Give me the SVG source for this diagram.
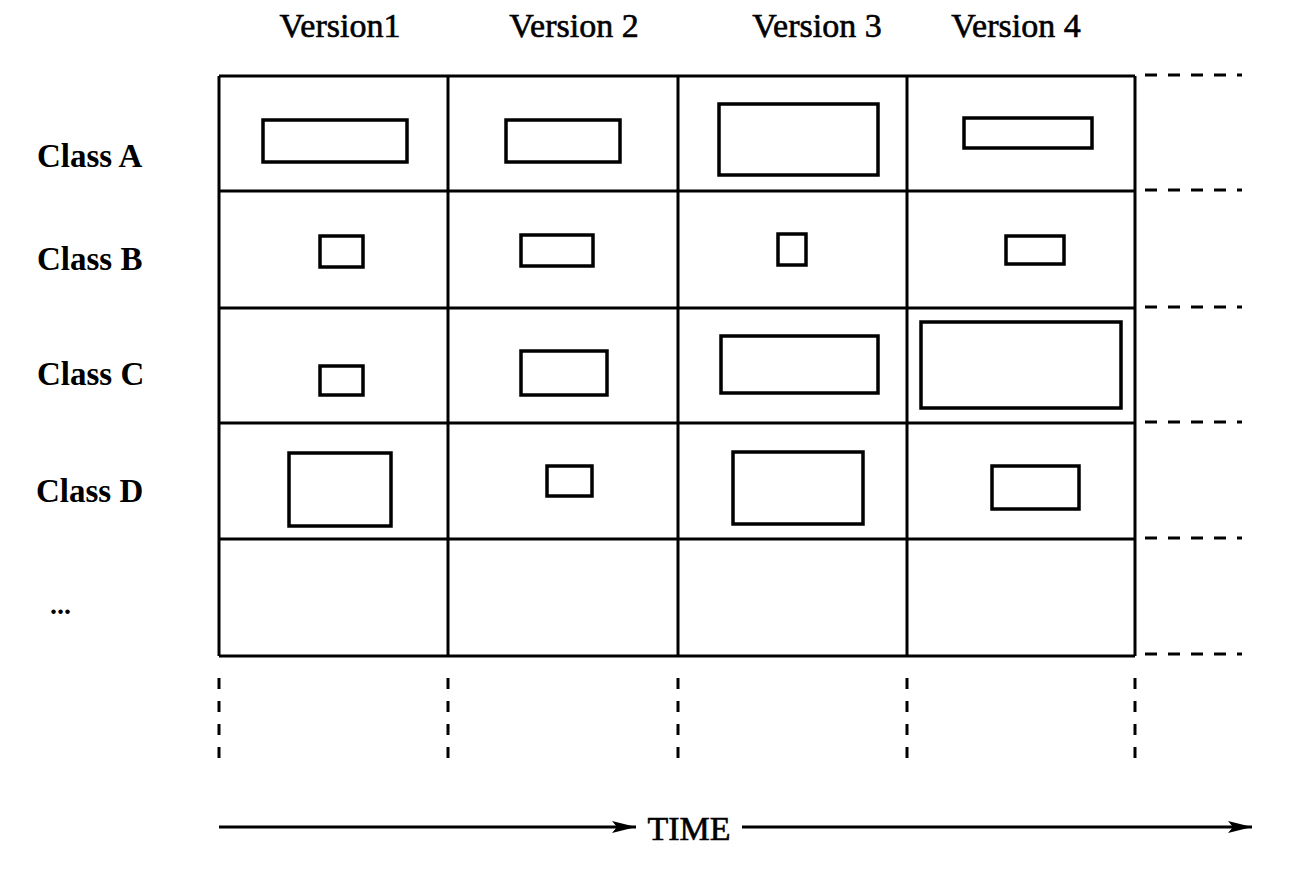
<svg xmlns="http://www.w3.org/2000/svg" width="1302" height="872" viewBox="0 0 1302 872">
<style>
.grid{stroke:#000;stroke-width:3;fill:none}
.dash{stroke:#000;stroke-width:3;fill:none;stroke-dasharray:12 11}
.box{stroke:#000;stroke-width:3.5;fill:#fff}
.hdr{font-family:"Liberation Serif","Times New Roman",serif;font-size:34px;fill:#000;stroke:#000;stroke-width:0.6;text-anchor:middle}
.cls{font-family:"Liberation Serif","Times New Roman",serif;font-size:33px;font-weight:bold;fill:#000}
</style>
<defs>
<marker id="arr" viewBox="0 0 24 12" refX="24" refY="6" markerWidth="24" markerHeight="12" markerUnits="userSpaceOnUse" orient="auto">
<path d="M0,0 L24,6 L0,12 L5,6 Z" fill="#000"/>
</marker>
</defs>
<rect width="1302" height="872" fill="#fff"/>
<g id="headers">
<text class="hdr" x="340" y="37">Version1</text>
<text class="hdr" x="574" y="37">Version 2</text>
<text class="hdr" x="817" y="37">Version 3</text>
<text class="hdr" x="1016" y="37">Version 4</text>
</g>
<g id="rowlabels">
<text class="cls" x="37" y="167">Class A</text>
<text class="cls" x="37" y="270">Class B</text>
<text class="cls" x="37" y="385">Class C</text>
<text class="cls" x="36" y="502">Class D</text>
<text class="cls" x="50" y="614" style="font-size:28px">...</text>
</g>
<g id="grid">
<path class="grid" d="M219,76 V656 M448,76 V656 M678,76 V656 M907,76 V656 M1135,76 V656"/>
<path class="grid" d="M219,76 H1135 M219,191 H1135 M219,308 H1135 M219,423 H1135 M219,539 H1135 M219,656 H1135"/>
</g>
<g id="extensions">
<path class="dash" d="M1145,75 H1242 M1145,190 H1242 M1145,307 H1242 M1145,422 H1242 M1145,538 H1242 M1145,654 H1242"/>
<path class="dash" style="stroke-dasharray:11 12" d="M219,678 V758 M448,678 V758 M678,678 V758 M907,678 V758 M1135,678 V758"/>
</g>
<g id="classA">
<rect class="box" x="263" y="120" width="144" height="42"/>
<rect class="box" x="506" y="120" width="114" height="42"/>
<rect class="box" x="719" y="104" width="159" height="71"/>
<rect class="box" x="964" y="118" width="128" height="30"/>
</g>
<g id="classB">
<rect class="box" x="320" y="236" width="43" height="31"/>
<rect class="box" x="521" y="235" width="72" height="31"/>
<rect class="box" x="778" y="234" width="28" height="31"/>
<rect class="box" x="1006" y="236" width="58" height="28"/>
</g>
<g id="classC">
<rect class="box" x="320" y="366" width="43" height="29"/>
<rect class="box" x="521" y="351" width="86" height="44"/>
<rect class="box" x="721" y="336" width="157" height="57"/>
<rect class="box" x="921" y="322" width="200" height="86"/>
</g>
<g id="classD">
<rect class="box" x="289" y="453" width="102" height="73"/>
<rect class="box" x="547" y="466" width="45" height="30"/>
<rect class="box" x="733" y="452" width="130" height="72"/>
<rect class="box" x="992" y="466" width="87" height="43"/>
</g>
<g id="connectors">
<line class="grid" x1="219" y1="827" x2="636" y2="827" marker-end="url(#arr)"/>
<line class="grid" x1="742" y1="827" x2="1252" y2="827" marker-end="url(#arr)"/>
</g>
<g id="timelabel">
<text class="hdr" x="689" y="840">TIME</text>
</g>
</svg>
